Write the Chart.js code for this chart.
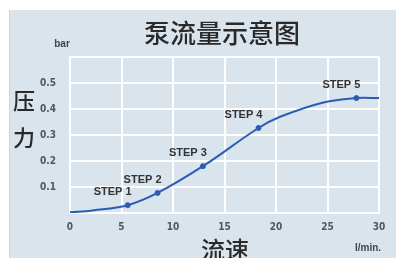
<!DOCTYPE html>
<html>
<head>
<meta charset="utf-8">
<script src="https://cdn.jsdelivr.net/npm/chart.js@4"></script>
<style>
  html, body { margin: 0; padding: 0; background: #ffffff; }
  #wrap { width: 396px; height: 258px; }
</style>
</head>
<body>
<div id="wrap"><canvas id="chart" width="396" height="258"></canvas></div>
<script>
// curve (l/min, bar)
const flow = [0, 2.2, 5.6, 8.5, 12.9, 18.3, 20.4, 24.6, 27.8, 30];
const pressure = [0.003, 0.01, 0.03, 0.077, 0.18, 0.327, 0.37, 0.425, 0.442, 0.442];

// marked steps
const stepNames = ['STEP 1', 'STEP 2', 'STEP 3', 'STEP 4', 'STEP 5'];
const stepFlow = [5.6, 8.5, 12.9, 18.3, 27.8];
const stepPressure = [0.03, 0.077, 0.18, 0.327, 0.442];

const xTicks = [0, 5, 10, 15, 20, 25, 30];
const yTickLabels = [0.1, 0.2, 0.3, 0.4, 0.5];

const blue = '#2b5db3';
const panel = '#d9e4ed';
const tickFont = { family: '"Liberation Sans Narrow", "DejaVu Sans Condensed", sans-serif', size: 10, weight: 'bold' };

// panel background + fixed captions
const decor = {
    id: 'decor',
    beforeDraw(chart) {
        const c = chart.ctx;
        c.save();
        c.fillStyle = panel;
        c.fillRect(9, 10, chart.width - 9, chart.height - 10);
        c.fillStyle = '#c9d6e2';
        c.fillRect(9, 10, 1, chart.height - 10);
        c.restore();
    },
    afterDraw(chart) {
        const c = chart.ctx;
        c.save();
        c.fillStyle = '#2a2a2a';
        c.textAlign = 'center';
        c.textBaseline = 'middle';
        c.font = '500 26px "Noto Sans CJK SC"';
        c.fillText('泵流量示意图', 222, 33);
        c.font = '500 22px "Noto Sans CJK SC"';
        c.fillText('压', 24, 101);
        c.fillText('力', 24, 138);
        c.font = '500 24px "Noto Sans CJK SC"';
        c.fillText('流速', 225, 250);
        c.fillStyle = '#444';
        c.font = 'bold 10px "Liberation Sans Narrow", sans-serif';
        c.fillText('bar', 62, 44);
        c.fillText('l/min.', 368, 248);

        // step labels next to their points
        const xs = chart.scales.x, ys = chart.scales.y;
        c.font = 'bold 11px "Liberation Sans Narrow", sans-serif';
        c.fillStyle = '#333';
        stepNames.forEach((name, i) => {
            const px = xs.getPixelForValue(stepFlow[i]);
            const py = ys.getPixelForValue(stepPressure[i]);
            c.fillText(name, px - 15, py - 13);
        });
        c.restore();
    }
};

new Chart(document.getElementById('chart'), {
    type: 'scatter',
    data: {
        datasets: [
            {
                label: 'curve',
                data: flow.map((f, i) => ({ x: f, y: pressure[i] })),
                showLine: true,
                borderColor: blue,
                borderWidth: 2,
                pointRadius: 0,
                tension: 0.4,
            },
            {
                label: 'steps',
                data: stepFlow.map((f, i) => ({ x: f, y: stepPressure[i] })),
                showLine: false,
                pointRadius: 2.5,
                backgroundColor: blue,
                borderColor: blue,
            }
        ]
    },
    options: {
        responsive: false,
        animation: false,
        layout: { padding: { left: 0, top: 57, right: 17, bottom: 0 } },
        plugins: { legend: { display: false }, tooltip: { enabled: false } },
        scales: {
            x: {
                type: 'linear',
                min: 0, max: 30,
                afterFit: s => { s.height = 45; },
                afterBuildTicks: s => { s.ticks = xTicks.map(v => ({ value: v })); },
                grid: { color: '#ffffff', lineWidth: 2, drawTicks: false },
                border: { color: '#ffffff', width: 2 },
                ticks: { color: '#555', font: tickFont, padding: 8, maxRotation: 0 }
            },
            y: {
                type: 'linear',
                min: 0, max: 0.6,
                afterFit: s => { s.width = 70; },
                ticks: {
                    stepSize: 0.1,
                    color: '#555',
                    font: tickFont,
                    padding: 14,
                    callback: v => {
                        const r = Math.round(v * 10) / 10;
                        return yTickLabels.includes(r) ? r.toFixed(1) : '';
                    }
                },
                grid: { color: '#ffffff', lineWidth: 2, drawTicks: false },
                border: { color: '#ffffff', width: 2 }
            }
        }
    },
    plugins: [decor]
});
</script>
</body>
</html>
